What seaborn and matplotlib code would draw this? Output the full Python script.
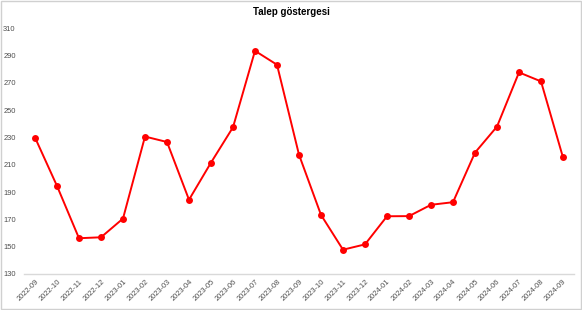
import matplotlib
matplotlib.use("Agg")
import matplotlib.pyplot as plt
import seaborn as sns
import pandas as pd
from matplotlib.patches import Rectangle

months = ["2022-09", "2022-10", "2022-11", "2022-12", "2023-01", "2023-02", "2023-03",
          "2023-04", "2023-05", "2023-06", "2023-07", "2023-08", "2023-09", "2023-10",
          "2023-11", "2023-12", "2024-01", "2024-02", "2024-03", "2024-04", "2024-05",
          "2024-06", "2024-07", "2024-08", "2024-09"]
values = [230, 194.5, 156.2, 156.9, 170.6, 230.7, 226.7, 184.4, 211.6, 237.5, 293.5,
          283.3, 217.4, 173.3, 147.8, 151.7, 172.3, 172.4, 180.7, 182.6, 218.9, 238,
          277.7, 271.1, 215.4]
yticks = [130, 150, 170, 190, 210, 230, 250, 270, 290, 310]
title = "Talep göstergesi"

sns.set_theme(style="white")
plt.rcParams['font.family'] = ['Liberation Sans', 'DejaVu Sans']

df = pd.DataFrame({"month": months, "value": values})
df["pos"] = range(len(months))

fig = plt.figure(figsize=(5.82, 3.10), dpi=100)
ax = fig.add_axes([24/582, 1 - 274/310, 550/582, (274 - 28.3)/310])

sns.lineplot(data=df, x="pos", y="value", ax=ax, color="#FF0000", linewidth=1.4,
             marker="o", markersize=5, markeredgewidth=0)

ax.set_xlim(-0.5, len(months) - 0.5)
ax.set_ylim(130, 310)
ax.set_yticks(yticks)
ax.set_yticklabels([str(t) for t in yticks], fontsize=5.4, color="#4D4D4D")
ax.set_xticks(df["pos"])
ax.set_xticklabels(months, rotation=45, ha="right", rotation_mode="anchor",
                   fontsize=5.4, color="#4D4D4D")
ax.tick_params(axis="both", length=0, pad=3)
ax.tick_params(axis="y", pad=6)
for s in ["top", "right", "left"]:
    ax.spines[s].set_visible(False)
ax.spines["bottom"].set_color("#D9D9D9")
ax.spines["bottom"].set_linewidth(1)
ax.set_xlabel("")
ax.set_ylabel("")
ax.grid(False)

fig.text(0.5, 1 - 12/310, title, ha="center", va="center", fontsize=7,
         fontweight="bold", color="#000000")

fig.patches.append(Rectangle((0.001, 0.002), 0.997, 0.995, transform=fig.transFigure,
                             fill=False, edgecolor="#D0D0D0", linewidth=1))

fig.savefig("out.png", dpi=100)
